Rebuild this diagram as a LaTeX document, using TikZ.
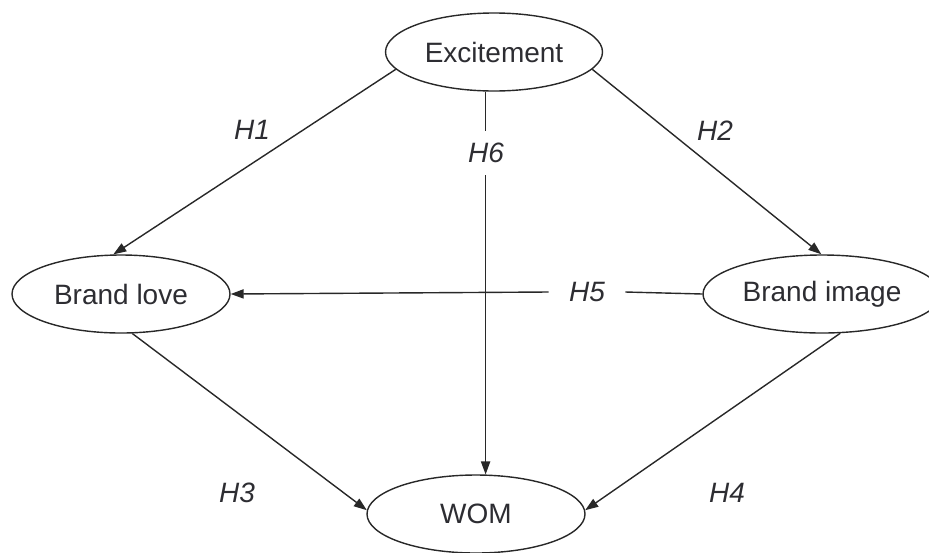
\documentclass[tikz,border=0pt]{standalone}
\usepackage{fontspec}
\setmainfont{Liberation Sans}
\usetikzlibrary{shapes.geometric,arrows.meta,positioning}
\definecolor{linecol}{RGB}{40,40,40}
\definecolor{txtcol}{RGB}{45,45,50}

\begin{document}
\begin{tikzpicture}[
  x=0.5pt, y=-0.5pt,
  construct/.style={ellipse, draw=linecol, line width=0.7pt, inner sep=0pt,
                    minimum height=39pt, font=\fontsize{14}{16}\selectfont,
                    text=txtcol},
  hyp/.style={font=\fontsize{14}{16}\selectfont\itshape, text=txtcol},
  path/.style={line width=0.7pt, draw=linecol},
  >={Triangle[length=6.5pt,width=4.6pt]}
]
  \useasboundingbox (0,0) rectangle (929,552);

  % Constructs
  \node[construct, minimum width=108.5pt] (exc) at (494,52)  {Excitement};
  \node[construct, minimum width=109pt]   (love) at (121,294) {Brand love};
  \node[construct, minimum width=119pt]   (img) at (822,294) {Brand image};
  \node[construct, minimum width=109pt]   (wom) at (476,514) {WOM};

  % Hypothesis labels
  \node[hyp] (h1) at (252,130) {H1};
  \node[hyp] (h2) at (715,131) {H2};
  \node[hyp] (h3) at (237,493) {H3};
  \node[hyp] (h4) at (727,493) {H4};
  \node[hyp, inner xsep=2pt, inner ysep=6pt] (h6) at (486,153) {H6};
  \node[hyp, inner xsep=10pt] (h5) at (587,292) {H5};

  % Paths
  \draw[path, ->] (exc.190) -- (love.101);
  \draw[path, ->] (exc.350) -- (img.91);
  \draw[path, ->] (love.286) -- (wom.178);
  \draw[path, ->] (img.295) -- (wom.2);
  \draw[path] (exc.258) -- (h6.north -| exc.258);
  \draw[path, ->] (h6.south -| exc.258) -- (wom.77 -| exc.258);
  \draw[path] (img.west) -- (h5.east);
  \draw[path, ->] (h5.west) -- (love.east);
\end{tikzpicture}
\end{document}
